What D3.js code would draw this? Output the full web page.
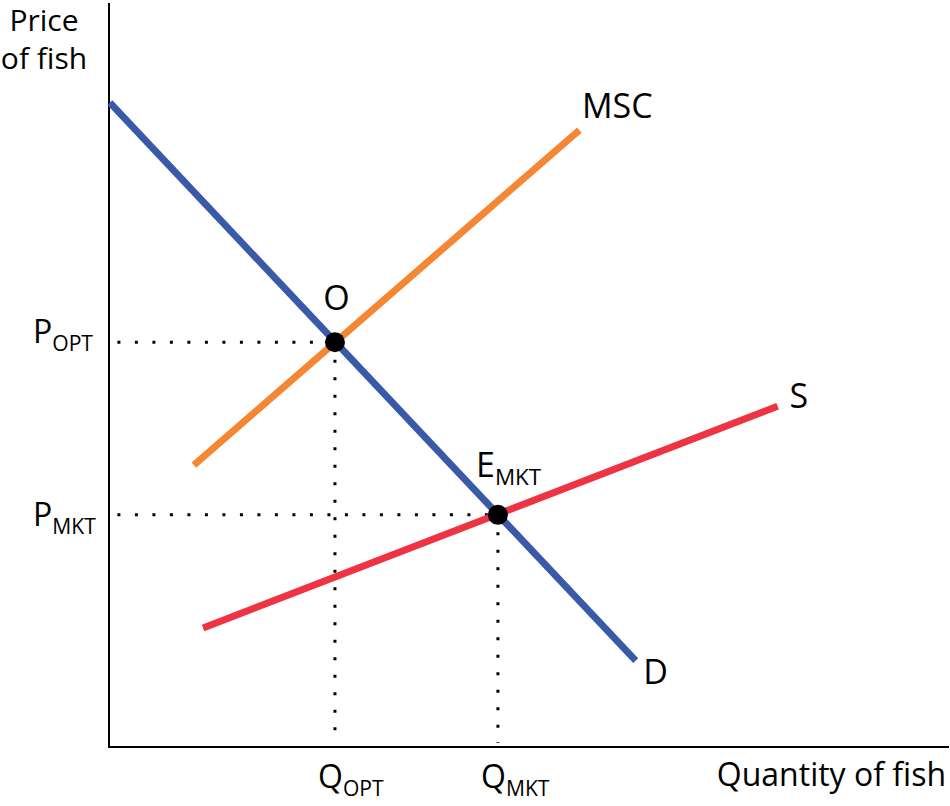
<!DOCTYPE html>
<html lang="en">
<head>
  <meta charset="UTF-8">
  <title>Fish market externality</title>
  <script src="https://d3js.org/d3.v7.min.js"></script>
  <style>
    body { margin: 0; background: #fff; }
    svg text { font-family: "Open Sans", "Noto Sans", sans-serif; fill: #000; }
  </style>
</head>
<body>
  <svg width="950" height="806"></svg>
  <script>
  // curve endpoints in data units (quantity 0-100, price 0-100)
  const demand = [{ q: 0.1, p: 86.6 }, { q: 62.7, p: 11.6 }];
  const msc = [{ q: 10.1, p: 37.9 }, { q: 56.0, p: 82.9 }];
  const supply = [{ q: 11.2, p: 16.0 }, { q: 79.6, p: 45.8 }];

  // equilibrium points
  const points = [
    { name: "OPT", q: 26.9, p: 54.4 },
    { name: "MKT", q: 46.3, p: 31.2 }
  ];

  const svg = d3.select("svg");
  const x = d3.scaleLinear().domain([0, 100]).range([109, 949]);
  const y = d3.scaleLinear().domain([0, 100]).range([747, 3]);

  const line = d3.line().x(d => x(d.q)).y(d => y(d.p));

  // axes
  svg.append("line")
    .attr("x1", x(0)).attr("y1", y(100))
    .attr("x2", x(0)).attr("y2", y(0))
    .attr("stroke", "#000").attr("stroke-width", 2);
  svg.append("line")
    .attr("x1", x(0) - 1).attr("y1", y(0))
    .attr("x2", x(100)).attr("y2", y(0))
    .attr("stroke", "#000").attr("stroke-width", 2);

  // dotted guides
  points.forEach(pt => {
    svg.append("line")
      .attr("x1", x(1)).attr("y1", y(pt.p))
      .attr("x2", x(pt.q)).attr("y2", y(pt.p))
      .attr("stroke", "#000").attr("stroke-width", 3)
      .attr("stroke-dasharray", "3 14.5");
    svg.append("line")
      .attr("x1", x(pt.q)).attr("y1", y(pt.p))
      .attr("x2", x(pt.q)).attr("y2", y(0) - 4)
      .attr("stroke", "#000").attr("stroke-width", 3)
      .attr("stroke-dasharray", "3 14.5");
  });

  // curves
  const curves = [
    { data: supply, color: "#ee3342" },
    { data: msc, color: "#f58634" },
    { data: demand, color: "#3a59a8" }
  ];
  curves.forEach(c => {
    svg.append("path")
      .attr("d", line(c.data))
      .attr("fill", "none")
      .attr("stroke", c.color)
      .attr("stroke-width", 7);
  });

  svg.selectAll("circle.eq")
    .data(points)
    .join("circle")
    .attr("class", "eq")
    .attr("cx", d => x(d.q))
    .attr("cy", d => y(d.p))
    .attr("r", 10)
    .attr("fill", "#000");

  // labels
  function subLabel(px, py, main, sub, size) {
    const t = svg.append("text").attr("x", px).attr("y", py).attr("font-size", size);
    t.append("tspan").text(main);
    t.append("tspan").attr("font-size", size * 0.66).attr("dy", 8).text(sub);
    return t;
  }

  svg.append("text")
    .attr("x", 44).attr("y", 31)
    .attr("text-anchor", "middle").attr("font-size", 30)
    .text("Price");
  svg.append("text")
    .attr("x", 44).attr("y", 69)
    .attr("text-anchor", "middle").attr("font-size", 30)
    .text("of fish");

  svg.append("text")
    .attr("x", 946).attr("y", 786)
    .attr("text-anchor", "end").attr("font-size", 32)
    .text("Quantity of fish");

  subLabel(33, 343, "P", "OPT", 32);
  subLabel(33, 526, "P", "MKT", 32);
  subLabel(318, 788, "Q", "OPT", 32);
  subLabel(481, 788, "Q", "MKT", 32);
  subLabel(476, 477, "E", "MKT", 34);

  const curveLabels = [
    { text: "MSC", q: 56.3, p: 84.5 },
    { text: "S", q: 81.0, p: 45.5 },
    { text: "D", q: 63.6, p: 8.5 },
    { text: "O", q: 25.5, p: 58.7 }
  ];
  svg.selectAll("text.curve")
    .data(curveLabels)
    .join("text")
    .attr("class", "curve")
    .attr("x", d => x(d.q))
    .attr("y", d => y(d.p))
    .attr("font-size", 34)
    .text(d => d.text);
  </script>
</body>
</html>
